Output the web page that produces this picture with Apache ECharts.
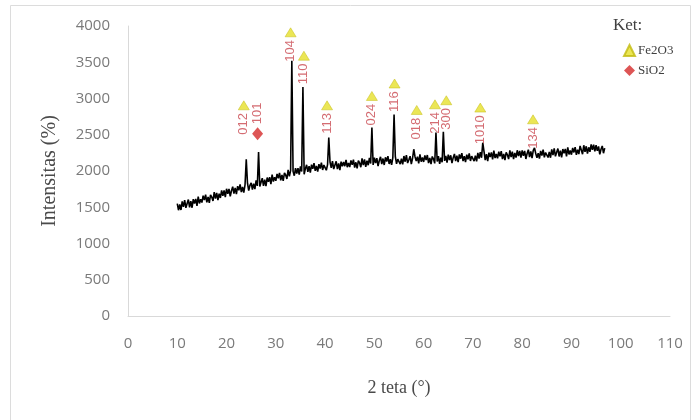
<!DOCTYPE html>
<html>
<head>
<meta charset="utf-8">
<script src="https://cdn.jsdelivr.net/npm/echarts@6/dist/echarts.min.js"></script>
<style>
  html, body { margin: 0; padding: 0; background: #ffffff; }
  #chart { width: 695px; height: 420px; }
</style>
</head>
<body>
<div id="chart"></div>
<script>
// ---- data ----
const xTicks = [0, 10, 20, 30, 40, 50, 60, 70, 80, 90, 100, 110];
const yTicks = [0, 500, 1000, 1500, 2000, 2500, 3000, 3500, 4000];

// XRD scan: 2-theta from thetaStart in steps of thetaStep
const thetaStart = 10;
const thetaStep = 0.25;
const intensity = [
  // 10.00 - 14.75
  1550, 1459, 1538, 1462, 1581, 1505, 1599, 1493, 1552, 1606, 1500, 1584, 1493, 1612, 1551, 1615, 1519, 1648, 1552, 1611,
  // 15.00 - 19.75
  1565, 1660, 1599, 1674, 1568, 1643, 1562, 1672, 1641, 1586, 1710, 1620, 1699, 1599, 1688, 1628, 1732, 1657, 1731, 1641,
  // 20.00 - 24.75
  1755, 1685, 1754, 1649, 1728, 1783, 1687, 1767, 1681, 1791, 1735, 1815, 1709, 1779, 1703, 1808, 2160, 1832, 1731, 1801,
  // 25.00 - 29.75
  1835, 1745, 1825, 1750, 1870, 1795, 2260, 1785, 1845, 1900, 1795, 1880, 1790, 1910, 1850, 1915, 1820, 1950, 1855, 1915,
  // 30.00 - 34.75
  1865, 1960, 1900, 1975, 1870, 1945, 1865, 1975, 1945, 1890, 2015, 1925, 2005, 3520, 1995, 1935, 2040, 1965, 2040, 1950,
  // 35.00 - 39.75
  2065, 1993, 3160, 1954, 2032, 2085, 1988, 2066, 1979, 2087, 2030, 2108, 2001, 2069, 1992, 2095, 2033, 2116, 2014, 2082,
  // 40.00 - 44.75
  2105, 2011, 2087, 2460, 2124, 2045, 2136, 2027, 2083, 2134, 2025, 2106, 2012, 2128, 2064, 2125, 2066, 2152, 2053, 2109,
  // 45.00 - 49.75
  2055, 2147, 2084, 2156, 2048, 2120, 2037, 2144, 2111, 2053, 2175, 2082, 2159, 2056, 2143, 2080, 2182, 2104, 2600, 2083,
  // 50.00 - 54.75
  2185, 2111, 2177, 2068, 2144, 2195, 2096, 2172, 2083, 2189, 2130, 2206, 2097, 2163, 2084, 2185, 2780, 2202, 2098, 2164,
  // 55.00 - 59.75
  2190, 2096, 2171, 2092, 2207, 2128, 2218, 2109, 2155, 2205, 2095, 2176, 2300, 2197, 2138, 2198, 2104, 2229, 2129, 2185,
  // 60.00 - 64.75
  2125, 2215, 2150, 2220, 2110, 2180, 2095, 2200, 2165, 2105, 2530, 2130, 2205, 2100, 2185, 2120, 2540, 2140, 2210, 2115,
  // 65.00 - 69.75
  2225, 2151, 2217, 2108, 2184, 2235, 2136, 2212, 2123, 2229, 2170, 2246, 2137, 2203, 2124, 2225, 2161, 2242, 2138, 2204,
  // 70.00 - 74.75
  2230, 2136, 2212, 2133, 2249, 2170, 2261, 2182, 2390, 2270, 2150, 2231, 2137, 2253, 2194, 2255, 2161, 2282, 2178, 2234,
  // 75.00 - 79.75
  2175, 2266, 2202, 2273, 2164, 2235, 2151, 2257, 2223, 2164, 2285, 2191, 2267, 2163, 2249, 2185, 2286, 2207, 2278, 2184,
  // 80.00 - 84.75
  2285, 2210, 2276, 2166, 2242, 2293, 2193, 2269, 2179, 2285, 2320, 2241, 2181, 2246, 2172, 2278, 2213, 2294, 2189, 2255,
  // 85.00 - 89.75
  2280, 2186, 2262, 2183, 2299, 2220, 2311, 2202, 2258, 2309, 2200, 2281, 2187, 2303, 2244, 2305, 2201, 2327, 2228, 2284,
  // 90.00 - 94.75
  2225, 2318, 2256, 2329, 2222, 2295, 2233, 2346, 2289, 2232, 2355, 2263, 2341, 2239, 2327, 2265, 2368, 2291, 2364, 2272,
  // 95.00 - 96.75
  2355, 2278, 2340, 2230, 2300, 2345, 2245, 2315
];

// Fe2O3 (hematite) peak markers
const fe2o3Labels = ['012', '104', '110', '113', '024', '116', '018', '214', '300', '1010', '134'];
const fe2o3X = [23.5, 33.0, 35.7, 40.4, 49.5, 54.1, 58.6, 62.3, 64.6, 71.5, 82.2];
const fe2o3Y = [2906, 3913, 3590, 2906, 3035, 3207, 2842, 2920, 2976, 2875, 2713];

// SiO2 (quartz) peak marker
const sio2Labels = ['101'];
const sio2X = [26.3];
const sio2Y = [2515];

const legendNames = ['Fe2O3', 'SiO2'];

// ---- chart ----
const lineData = intensity.map((v, i) => [thetaStart + i * thetaStep, v]);
const feData = fe2o3X.map((x, i) => [x, fe2o3Y[i]]);
const siData = sio2X.map((x, i) => [x, sio2Y[i]]);

const tickFont = { fontFamily: 'Open Sans', fontSize: 15, color: '#7a7a7a' };
const labelRed = '#c9474f';

const chart = echarts.init(document.getElementById('chart'), null, { renderer: 'canvas' });
chart.setOption({
  animation: false,
  backgroundColor: '#ffffff',
  grid: { left: 128, right: 25, top: 26, bottom: 104, containLabel: false },
  graphic: [
    {
      type: 'rect',
      shape: { x: 10.5, y: 5.5, width: 680, height: 430 },
      style: { fill: 'none', stroke: '#dcdcdc', lineWidth: 1 },
      silent: true, z: -1
    },
    {
      type: 'text',
      left: 613, top: 17,
      style: { text: 'Ket:', font: '17px "Liberation Serif"', fill: '#404040' }
    }
  ],
  legend: {
    data: legendNames,
    orient: 'vertical',
    left: 623, top: 44,
    padding: 0,
    itemWidth: 11, itemHeight: 11, itemGap: 7,
    textStyle: { fontFamily: 'Liberation Serif', fontSize: 13, color: '#404040', padding: [0, 0, 0, -2] }
  },
  xAxis: {
    type: 'value',
    min: xTicks[0], max: xTicks[xTicks.length - 1], interval: 10,
    name: '2 teta (°)',
    nameLocation: 'middle', nameGap: 63,
    nameTextStyle: { fontFamily: 'Liberation Serif', fontSize: 18, color: '#4a4a4a' },
    axisLine: { show: true, lineStyle: { color: '#d9d9d9', width: 1 } },
    axisTick: { show: false },
    splitLine: { show: false },
    axisLabel: Object.assign({ margin: 20, formatter: (v) => String(v) }, tickFont)
  },
  yAxis: {
    type: 'value',
    min: yTicks[0], max: yTicks[yTicks.length - 1], interval: 500,
    name: 'Intensitas (%)',
    nameLocation: 'middle', nameGap: 68, nameRotate: 90,
    nameTextStyle: { fontFamily: 'Liberation Serif', fontSize: 20, color: '#4a4a4a' },
    axisLine: { show: true, lineStyle: { color: '#d9d9d9', width: 1 } },
    axisTick: { show: false },
    splitLine: { show: false },
    axisLabel: Object.assign({ margin: 18, formatter: (v) => String(v) }, tickFont)
  },
  series: [
    {
      name: 'XRD',
      type: 'line',
      data: lineData,
      showSymbol: false,
      symbol: 'none',
      lineStyle: { color: '#000000', width: 1.6 },
      z: 2
    },
    {
      name: 'Fe2O3',
      type: 'scatter',
      data: feData,
      symbol: 'triangle',
      symbolSize: [11, 9],
      itemStyle: { color: '#e6e02a', borderColor: '#c2ba10', borderWidth: 0.6 },
      label: {
        show: true,
        position: 'bottom',
        distance: 3,
        rotate: 90,
        align: 'right',
        verticalAlign: 'middle',
        formatter: (p) => fe2o3Labels[p.dataIndex],
        fontFamily: 'Liberation Sans', fontSize: 13, color: labelRed
      },
      z: 3
    },
    {
      name: 'SiO2',
      type: 'scatter',
      data: siData,
      symbol: 'diamond',
      symbolSize: [11, 13],
      itemStyle: { color: '#d42a2a' },
      label: {
        show: true,
        position: 'top',
        distance: 3,
        rotate: 90,
        align: 'left',
        verticalAlign: 'middle',
        formatter: (p) => sio2Labels[p.dataIndex],
        fontFamily: 'Liberation Sans', fontSize: 13, color: labelRed
      },
      z: 3
    }
  ]
});
</script>
</body>
</html>
